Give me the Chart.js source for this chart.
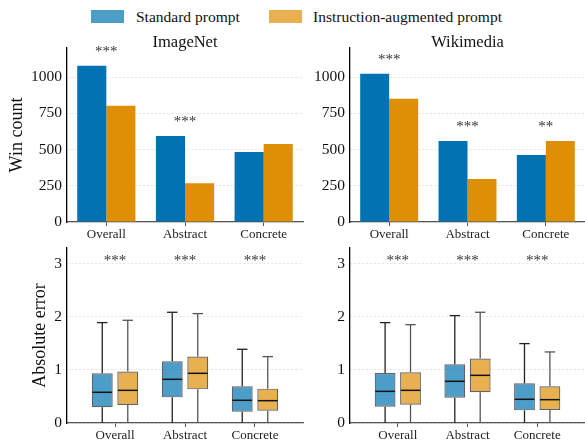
<!DOCTYPE html>
<html><head><meta charset="utf-8">
<script src="https://cdn.jsdelivr.net/npm/chart.js@4.4.1/dist/chart.umd.min.js"></script>
<style>
html,body{margin:0;padding:0;background:#fff;}
#wrap{position:relative;width:585px;height:446px;overflow:hidden;font-family:"Liberation Serif","Times New Roman",serif;}
.panel{position:absolute;}
.panel canvas{display:block;}
.patch{position:absolute;height:13.5px;width:33px;}
.ltext{position:absolute;font-size:15.5px;line-height:15.5px;color:#111;white-space:nowrap;}
</style></head><body>
<div id="wrap">
  <div class="patch" style="left:91px;top:9.5px;background:rgba(1,115,178,0.7)"></div>
  <div class="ltext" id="leg0" style="left:136px;top:8.5px"></div>
  <div class="patch" style="left:269px;top:9.5px;background:rgba(222,143,5,0.7)"></div>
  <div class="ltext" id="leg1" style="left:313px;top:8.5px"></div>
  <div class="panel" style="left:0;top:0"><canvas id="c1" width="305" height="245"></canvas></div>
  <div class="panel" style="left:305px;top:0"><canvas id="c2" width="280" height="245"></canvas></div>
  <div class="panel" style="left:0;top:230px"><canvas id="c3" width="305" height="216"></canvas></div>
  <div class="panel" style="left:305px;top:230px"><canvas id="c4" width="280" height="216"></canvas></div>
</div>
<script>
// ---- data ----
const categories = ['Overall', 'Abstract', 'Concrete'];
const seriesNames = ['Standard prompt', 'Instruction-augmented prompt'];
const panelTitles = ['ImageNet', 'Wikimedia'];

const winTicks = [0, 250, 500, 750, 1000];
const errTicks = [0, 1, 2, 3];

const imagenetStandardWins = [1078, 593, 483];
const imagenetInstructionWins = [801, 268, 538];
const wikimediaStandardWins = [1023, 559, 462];
const wikimediaInstructionWins = [850, 296, 559];

const imagenetWinStars = ['***', '***', ''];
const wikimediaWinStars = ['***', '***', '**'];
const imagenetErrStars = ['***', '***', '***'];
const wikimediaErrStars = ['***', '***', '***'];

// box stats per category: [lower whisker, Q1, median, Q3, upper whisker]
const imagenetStandardErr = [[0, 0.296, 0.579, 0.937, 1.893], [0, 0.484, 0.824, 1.164, 2.088], [0, 0.214, 0.428, 0.692, 1.390]];
const imagenetInstructionErr = [[0, 0.340, 0.616, 0.969, 1.937], [0, 0.635, 0.937, 1.252, 2.063], [0, 0.233, 0.421, 0.648, 1.252]];
const wikimediaStandardErr = [[0, 0.308, 0.597, 0.943, 1.893], [0, 0.478, 0.786, 1.107, 2.025], [0, 0.239, 0.447, 0.748, 1.497]];
const wikimediaInstructionErr = [[0, 0.346, 0.616, 0.956, 1.855], [0, 0.579, 0.899, 1.214, 2.088], [0, 0.245, 0.440, 0.692, 1.340]];

// ---- style ----
const SERIF = "'Liberation Serif', 'Times New Roman', serif";
const barBlue = '#0173b2', barOrange = '#de8f05';
const boxBlue = 'rgba(1,115,178,0.7)', boxOrange = 'rgba(222,143,5,0.7)';
Chart.defaults.font.family = SERIF;

document.getElementById('leg0').textContent = seriesNames[0];
document.getElementById('leg1').textContent = seriesNames[1];

const annotPlugin = {
  id: 'annot',
  afterDraw(chart, args, opts) {
    const ctx = chart.ctx, x = chart.scales.x, y = chart.scales.y, ca = chart.chartArea;
    ctx.save();
    if (opts.title) {
      ctx.font = '16.5px ' + SERIF; ctx.fillStyle = '#111';
      ctx.textAlign = 'center'; ctx.textBaseline = 'alphabetic';
      ctx.fillText(opts.title, (ca.left + ca.right) / 2, 47);
    }
    ctx.font = '15px ' + SERIF; ctx.fillStyle = '#333';
    ctx.textAlign = 'center'; ctx.textBaseline = 'alphabetic';
    (opts.stars || []).forEach((s, i) => {
      if (!s) return;
      const v = opts.starValue(i);
      ctx.fillText(s, x.getPixelForValue(i), y.getPixelForValue(v) + 7);
    });
    ctx.restore();
  }
};

function line(ctx, x1, y1, x2, y2) { ctx.beginPath(); ctx.moveTo(x1, y1); ctx.lineTo(x2, y2); ctx.stroke(); }

const boxPlugin = {
  id: 'boxExtras',
  beforeDatasetsDraw(chart) {
    const ctx = chart.ctx, y = chart.scales.y;
    chart.data.datasets.forEach((ds, di) => {
      chart.getDatasetMeta(di).data.forEach((bar, i) => {
        const s = ds.stats[i];
        const p = bar.getProps(['x', 'width'], true);
        ctx.save();
        ctx.strokeStyle = ds.whiskerColor; ctx.lineWidth = 1.3;
        line(ctx, p.x, y.getPixelForValue(s[3]), p.x, y.getPixelForValue(s[4]));
        line(ctx, p.x, y.getPixelForValue(s[1]), p.x, y.getPixelForValue(s[0]));
        line(ctx, p.x - p.width / 4, y.getPixelForValue(s[4]), p.x + p.width / 4, y.getPixelForValue(s[4]));
        ctx.restore();
      });
    });
  },
  afterDatasetsDraw(chart) {
    const ctx = chart.ctx, y = chart.scales.y;
    chart.data.datasets.forEach((ds, di) => {
      chart.getDatasetMeta(di).data.forEach((bar, i) => {
        const s = ds.stats[i];
        const p = bar.getProps(['x', 'width'], true);
        ctx.save();
        ctx.strokeStyle = '#111'; ctx.lineWidth = 1.5;
        const ym = y.getPixelForValue(s[2]);
        line(ctx, p.x - p.width / 2 + 0.6, ym, p.x + p.width / 2 - 0.6, ym);
        ctx.restore();
      });
    });
  }
};

function xAxisCommon() {
  return {
    offset: false,
    grid: { display: true, drawOnChartArea: false, offset: false, drawTicks: true, tickLength: 4, color: '#555', tickWidth: 1 },
    border: { color: '#555', width: 1.3 },
    ticks: { font: { size: 13, family: SERIF }, color: '#222', padding: 1, maxRotation: 0, autoSkip: false },
    afterFit: s => { s.height = 23; }
  };
}

function yAxisCommon(min, max, tickVals, title, yWidth, titlePad) {
  return {
    min: min, max: max,
    afterBuildTicks: a => { a.ticks = tickVals.map(v => ({ value: v })); },
    grid: { color: '#dedede', lineWidth: 0.8, drawTicks: false },
    border: { color: '#000', width: 1.3, dash: [2, 2] },
    ticks: { font: { size: 15.5, family: SERIF }, color: '#111', padding: 5, callback: v => String(v) },
    title: { display: !!title, text: title || '', font: { size: 18, family: SERIF }, color: '#111', padding: { top: titlePad, bottom: 0 } },
    afterFit: s => { s.width = yWidth; }
  };
}

function winChart(id, std, ins, stars, title, yTitle, yWidth, rightPad) {
  const xa = xAxisCommon();
  xa.offset = true;
  new Chart(document.getElementById(id), {
    type: 'bar',
    data: {
      labels: categories,
      datasets: [
        { label: seriesNames[0], data: std, backgroundColor: barBlue, borderWidth: 0, categoryPercentage: 0.74, barPercentage: 1.0 },
        { label: seriesNames[1], data: ins, backgroundColor: barOrange, borderWidth: 0, categoryPercentage: 0.74, barPercentage: 1.0 }
      ]
    },
    options: {
      responsive: false, animation: false, devicePixelRatio: 1,
      layout: { padding: { top: 48, right: rightPad, left: 0, bottom: 0 } },
      plugins: {
        legend: { display: false }, tooltip: { enabled: false },
        annot: { title: title, stars: stars, starValue: i => Math.max(std[i], ins[i]) + 117 }
      },
      scales: { x: xa, y: yAxisCommon(0, 1200, winTicks, yTitle, yWidth, 6) }
    },
    plugins: [annotPlugin]
  });
}

function errChart(id, std, ins, stars, yTitle, yWidth, rightPad) {
  const toBars = box => box.map((b, i) => ({ x: i, y: [b[1], b[3]] }));
  const xa = xAxisCommon();
  xa.type = 'linear'; xa.min = -0.686; xa.max = 2.686; xa.offset = false; xa.bounds = 'data';
  xa.ticks.includeBounds = false;
  xa.afterBuildTicks = a => { a.ticks = categories.map((c, i) => ({ value: i })); };
  xa.ticks.callback = v => categories[v];
  new Chart(document.getElementById(id), {
    type: 'bar',
    data: {
      datasets: [
        { label: seriesNames[0], data: toBars(std), stats: std, backgroundColor: boxBlue, borderColor: 'rgba(70,70,70,0.85)', borderWidth: 1.2, borderSkipped: false, categoryPercentage: 0.729, barPercentage: 0.82, whiskerColor: '#222' },
        { label: seriesNames[1], data: toBars(ins), stats: ins, backgroundColor: boxOrange, borderColor: 'rgba(70,70,70,0.85)', borderWidth: 1.2, borderSkipped: false, categoryPercentage: 0.729, barPercentage: 0.82, whiskerColor: '#555' }
      ]
    },
    options: {
      responsive: false, animation: false, devicePixelRatio: 1,
      layout: { padding: { top: 18, right: rightPad, left: 0, bottom: 0 } },
      plugins: {
        legend: { display: false }, tooltip: { enabled: false },
        annot: { stars: stars, starValue: i => 3.12 }
      },
      scales: { x: xa, y: yAxisCommon(0, 3.3, errTicks, yTitle, yWidth, 29) }
    },
    plugins: [boxPlugin, annotPlugin]
  });
}

winChart('c1', imagenetStandardWins, imagenetInstructionWins, imagenetWinStars, panelTitles[0], 'Win count', 67, 2);
winChart('c2', wikimediaStandardWins, wikimediaInstructionWins, wikimediaWinStars, panelTitles[1], '', 45, 0);
errChart('c3', imagenetStandardErr, imagenetInstructionErr, imagenetErrStars, 'Absolute error', 67, 2);
errChart('c4', wikimediaStandardErr, wikimediaInstructionErr, wikimediaErrStars, '', 45, 0);
</script>
</body></html>
